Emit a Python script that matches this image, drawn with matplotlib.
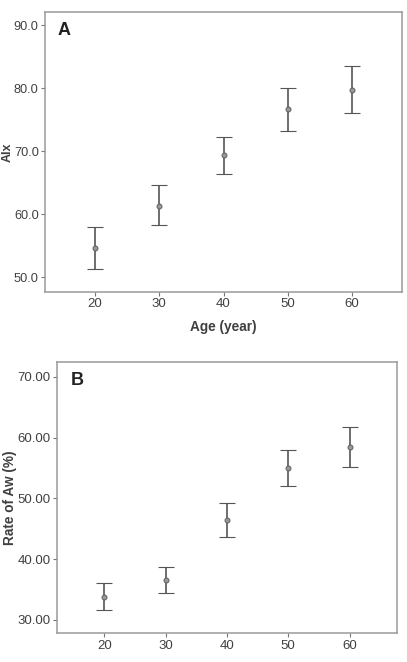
import matplotlib
matplotlib.use("Agg")
import matplotlib.pyplot as plt
import numpy as np

plt.rcParams['font.family'] = ['Liberation Sans', 'DejaVu Sans']

ages = [20, 30, 40, 50, 60]
aix_mean = [54.65, 61.4, 69.4, 76.7, 79.8]
aix_upper = [58.07, 64.6, 72.3, 80.1, 83.5]
aix_lower = [51.4, 58.3, 66.4, 73.2, 76.1]
aix_ticks = [50.0, 60.0, 70.0, 80.0, 90.0]

aw_mean = [33.8, 36.6, 46.5, 55.0, 58.4]
aw_upper = [36.0, 38.7, 49.3, 58.0, 61.7]
aw_lower = [31.6, 34.4, 43.6, 52.1, 55.1]
aw_ticks = [30.0, 40.0, 50.0, 60.0, 70.0]

W, H = 407, 662
fig = plt.figure(figsize=(W / 100, H / 100), dpi=100)

frame_c = '#9a9a9a'
bar_c = '#555555'
txt_c = '#404040'

def style(ax, yticks, fmt, ylim, fs=9.5):
    ax.set_xlim(12.2, 67.8)
    ax.set_ylim(*ylim)
    ax.set_xticks(ages)
    ax.set_xticklabels([str(a) for a in ages], fontsize=9.5, color=txt_c)
    ax.set_yticks(yticks)
    ax.set_yticklabels([fmt.format(t) for t in yticks], fontsize=fs, color=txt_c)
    for s in ax.spines.values():
        s.set_color(frame_c)
        s.set_linewidth(1.1)
    ax.tick_params(axis='both', length=3, width=0.8, color='#777777', pad=1.5)

def draw(ax, mean, lo, hi):
    m = np.array(mean)
    yerr = [m - np.array(lo), np.array(hi) - m]
    ax.errorbar(ages, m, yerr=yerr, fmt='o', color=bar_c, ecolor=bar_c,
                elinewidth=1.2, capsize=5.8, capthick=1.2,
                markersize=3.5, markerfacecolor='#999999', markeredgecolor='#666666',
                markeredgewidth=0.8)

axA = fig.add_axes([45 / W, 1 - 292 / H, 357 / W, 280 / H])
draw(axA, aix_mean, aix_lower, aix_upper)
style(axA, aix_ticks, '{:.1f}', (47.7, 92.1), fs=9.2)
axA.set_xlabel('Age (year)', fontsize=9.8, fontweight='bold', color=txt_c, labelpad=7)
axA.set_ylabel('AIx', fontsize=9, fontweight='bold', color=txt_c)
axA.yaxis.set_label_coords((13.5 - 45) / 357, 0.5)
axA.text(0.034, 0.965, 'A', transform=axA.transAxes, fontsize=13, fontweight='bold',
         va='top', ha='left', color='#222222')

axB = fig.add_axes([56.7 / W, 1 - 633.3 / H, 340.6 / W, 271 / H])
draw(axB, aw_mean, aw_lower, aw_upper)
style(axB, aw_ticks, '{:.2f}', (27.8, 72.4))
axB.set_ylabel('Rate of Aw (%)', fontsize=9.8, fontweight='bold', color=txt_c)
axB.yaxis.set_label_coords((17 - 56.7) / 340.6, 0.5)
axB.text(0.042, 0.965, 'B', transform=axB.transAxes, fontsize=13, fontweight='bold',
         va='top', ha='left', color='#222222')

fig.savefig('out.png', dpi=100)
